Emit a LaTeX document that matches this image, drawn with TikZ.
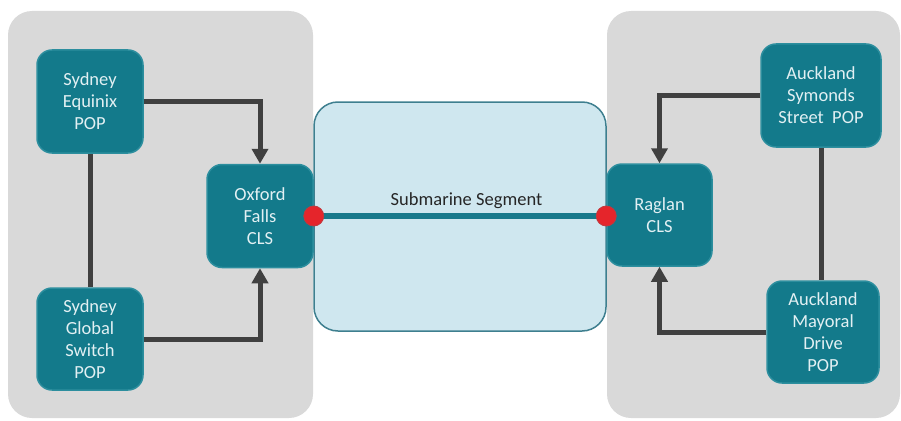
\documentclass[tikz,border=0pt]{standalone}
\usepackage{fontspec}
\setmainfont{Carlito}
\usetikzlibrary{arrows.meta}
\definecolor{panelgray}{HTML}{D9D9D9}
\definecolor{tealbox}{HTML}{137A8B}
\definecolor{tealedge}{HTML}{2C8E9E}
\definecolor{boxtext}{HTML}{E2F0F3}
\definecolor{seafill}{HTML}{CFE7EF}
\definecolor{seaedge}{HTML}{3E7F8F}
\definecolor{arrowgray}{HTML}{404040}
\definecolor{dotred}{HTML}{E5252B}
\definecolor{dotedge}{HTML}{C0393E}
\definecolor{cableteal}{HTML}{18798B}
\tikzset{
  panel/.style={fill=panelgray, draw=none, rounded corners=24pt},
  site/.style={fill=tealbox, draw=tealedge, line width=1.5pt, rounded corners=15pt,
    text=boxtext, align=center, inner sep=0pt,
    font=\fontsize{18.5}{22}\selectfont},
  link/.style={draw=arrowgray, line width=5pt},
  flow/.style={link, -{Triangle[width=16pt,length=15pt]}},
  endpoint/.style={circle, fill=dotred, draw=dotedge, line width=0.8pt, minimum size=20pt, inner sep=0pt},
  cable/.style={draw=cableteal, line width=6pt}
}
\begin{document}
\begin{tikzpicture}[x=1pt,y=-1pt]
\useasboundingbox (0,0) rectangle (901,420);
% panels
\path[panel] (8,11) rectangle (313,418);
\path[panel] (607,11) rectangle (900,418);
\path[fill=seafill, draw=seaedge, line width=1.5pt, rounded corners=24pt] (314,102) rectangle (606,331);
% sites
\node[site, minimum width=106pt, minimum height=103pt] (eq) at (90,101.5) {Sydney\\Equinix\\POP};
\node[site, minimum width=106pt, minimum height=102pt] (gs) at (90,339) {Sydney\\Global\\Switch\\POP};
\node[site, minimum width=106pt, minimum height=103pt] (ox) at (260,216) {Oxford\\Falls\\CLS};
\node[site, minimum width=105pt, minimum height=102pt] (rg) at (659.5,215) {Raglan\\CLS};
\node[site, minimum width=120pt, minimum height=103pt] (sy) at (821,95.5) {Auckland\\Symonds\\Street\ \ POP};
\node[site, minimum width=112pt, minimum height=102pt] (my) at (823,332) {Auckland\\Mayoral\\Drive\\POP};
% connectors
\draw[link] (eq.south) -- (gs.north);
\draw[link] (sy.south) -- (sy.south |- my.north);
\draw[flow] (eq.east) -| (ox.north);
\draw[flow] (gs.east) -| (ox.south);
\draw[flow] (sy.west) -| (rg.north);
\draw[flow] (my.west) -| (rg.south);
% submarine cable
\coordinate (cw) at (ox.east);
\coordinate (ce) at (ox.east -| rg.west);
\draw[cable] (cw) -- (ce);
\node[endpoint] (dw) at (cw) {};
\node[endpoint] (de) at (ce) {};
\node[anchor=base, font=\fontsize{18.5}{22}\selectfont, text=black!85] (lbl) at (466.5,205) {Submarine Segment};
\end{tikzpicture}
\end{document}
